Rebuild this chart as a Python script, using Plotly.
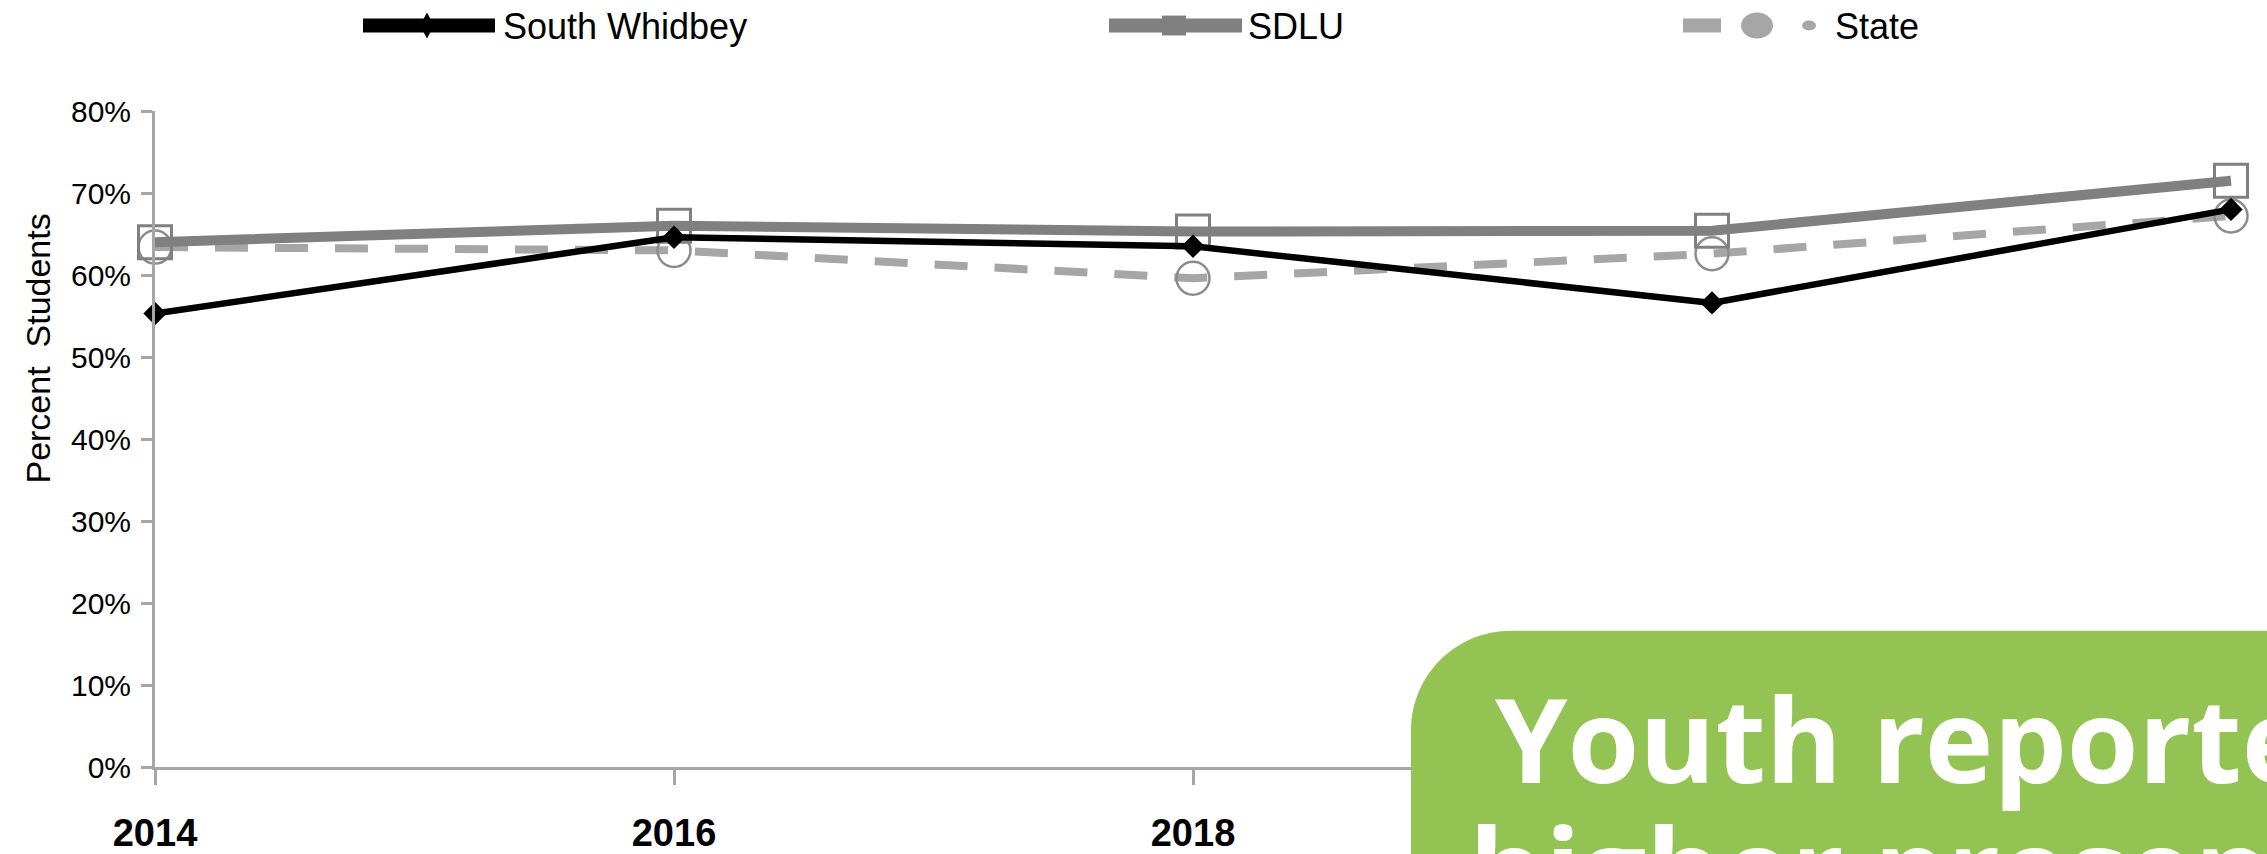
import plotly.graph_objects as go

# Survey years and percent of students (fractions)
years = ["2014", "2016", "2018", "2021", "2023"]
south_whidbey = [0.553, 0.646, 0.635, 0.566, 0.680]
sdlu = [0.640, 0.660, 0.653, 0.654, 0.715]
state = [0.634, 0.630, 0.596, 0.626, 0.672]

series_names = ["South Whidbey", "SDLU", "State"]
y_tick_vals = [0, 0.1, 0.2, 0.3, 0.4, 0.5, 0.6, 0.7, 0.8]
# year labels that sit under the call-out panel are left blank
x_tick_text = ["2014", "2016", "2018", "", ""]

callout_line1 = "Youth reported"
callout_line2 = "higher presence of"
y_title = "Percent\u00a0 Students"

W, H = 2267, 854
L, R, T, B = 155, 2267, 111, 771
CAT_STEP = 519  # pixel distance between neighbouring years

AXIS_GREY = "#A6A6A6"
FONT = "Liberation Sans, Arial, sans-serif"


def px_x(px):
    return (px - L) / (R - L)


def px_y(py):
    return (B - py) / (B - T)


def path_px(points_cmds):
    """Build an SVG path in paper units from pixel commands."""
    out = []
    for cmd, pts in points_cmds:
        coords = " ".join(f"{px_x(x):.5f},{px_y(y):.5f}" for x, y in pts)
        out.append(f"{cmd}{coords}")
    return " ".join(out) + " Z"


fig = go.Figure()

fig.add_trace(go.Scatter(
    x=years, y=state, name=series_names[2], mode="lines+markers",
    line=dict(color="#A6A6A6", width=8, dash="33px,27px"),
    marker=dict(symbol="circle-open", size=33, color="#8C8C8C",
                line=dict(width=2.5)),
    cliponaxis=False, showlegend=False,
))
fig.add_trace(go.Scatter(
    x=years, y=sdlu, name=series_names[1], mode="lines+markers",
    line=dict(color="#808080", width=10),
    marker=dict(symbol="square-open", size=33, color="#808080",
                line=dict(width=3)),
    cliponaxis=False, showlegend=False,
))
fig.add_trace(go.Scatter(
    x=years, y=south_whidbey, name=series_names[0], mode="lines+markers",
    line=dict(color="#000000", width=6.5),
    marker=dict(symbol="diamond", size=18, color="#000000"),
    cliponaxis=False, showlegend=False,
))

shapes = []
annotations = []

# ---- legend row across the top ----
LEG_Y = 25


def hline(x0, x1, y, color, width):
    return dict(type="line", xref="paper", yref="paper",
                x0=px_x(x0), x1=px_x(x1), y0=px_y(y), y1=px_y(y),
                line=dict(color=color, width=width), layer="above")


def box(x0, x1, y0, y1, color, kind="rect"):
    return dict(type=kind, xref="paper", yref="paper",
                x0=px_x(x0), x1=px_x(x1), y0=px_y(y0), y1=px_y(y1),
                fillcolor=color, line=dict(width=0), layer="above")


# South Whidbey key
shapes.append(hline(363, 495, LEG_Y, "#000000", 14))
shapes.append(dict(type="path", xref="paper", yref="paper", layer="above",
                   path=path_px([("M", [(427, LEG_Y - 13)]), ("L", [(434, LEG_Y)]),
                                 ("L", [(427, LEG_Y + 13)]), ("L", [(420, LEG_Y)])]),
                   fillcolor="#000000", line=dict(width=0)))
# SDLU key
shapes.append(hline(1109, 1242, LEG_Y, "#808080", 14))
shapes.append(box(1162, 1186, LEG_Y - 10, LEG_Y + 10, "#808080"))
# State key
shapes.append(box(1683, 1721, LEG_Y - 7, LEG_Y + 7, "#A6A6A6"))
shapes.append(box(1741, 1773, LEG_Y - 13, LEG_Y + 13, "#A6A6A6", "circle"))
shapes.append(box(1802, 1816, LEG_Y - 5, LEG_Y + 5, "#A6A6A6", "circle"))

for name, x0 in zip(series_names, [502, 1247, 1834]):
    annotations.append(dict(
        text=name, xref="paper", yref="paper", x=px_x(x0), y=px_y(LEG_Y + 1),
        xanchor="left", yanchor="middle", showarrow=False,
        font=dict(family=FONT, size=36, color="#000000"), borderpad=0,
    ))

# ---- y axis title ----
annotations.append(dict(
    text=y_title, xref="paper", yref="paper", x=px_x(38), y=px_y(350),
    xanchor="center", yanchor="middle", textangle=-90, showarrow=False,
    font=dict(family=FONT, size=34, color="#000000"),
))

# ---- green call-out panel with rounded top-left corner ----
BX, BY, RAD, K = 1411, 634, 100, 0.5523
shapes.append(dict(
    type="path", xref="paper", yref="paper", layer="above",
    path=path_px([
        ("M", [(BX, 900)]),
        ("L", [(BX, BY + RAD)]),
        ("C", [(BX, BY + RAD - RAD * K), (BX + RAD - RAD * K, BY), (BX + RAD, BY)]),
        ("L", [(2400, BY)]),
        ("L", [(2400, 900)]),
    ]),
    fillcolor="#93C353", line=dict(width=0),
))

CALL_FONT = dict(family="Open Sans, Noto Sans, sans-serif", size=116,
                 color="#FFFFFF", weight="bold")
annotations.append(dict(
    text=callout_line1, xref="paper", yref="paper", x=px_x(1494), y=px_y(661),
    xanchor="left", yanchor="top", showarrow=False, font=CALL_FONT, borderpad=0,
))
annotations.append(dict(
    text=callout_line2, xref="paper", yref="paper", x=px_x(1468), y=px_y(792),
    xanchor="left", yanchor="top", showarrow=False, font=CALL_FONT, borderpad=0,
))

fig.update_layout(
    width=W, height=H,
    margin=dict(l=L, r=W - R, t=T, b=H - B, pad=0),
    paper_bgcolor="#FFFFFF", plot_bgcolor="#FFFFFF",
    font=dict(family=FONT, color="#000000"),
    shapes=shapes, annotations=annotations,
    showlegend=False,
)

fig.update_xaxes(
    type="category", range=[0, (R - L) / CAT_STEP],
    tickvals=years, ticktext=x_tick_text,
    showgrid=False, zeroline=False,
    showline=True, linecolor=AXIS_GREY, linewidth=3,
    ticks="outside", ticklen=15, tickwidth=3, tickcolor=AXIS_GREY,
    tickfont=dict(family=FONT, size=38, color="#000000", weight="bold"),
    ticklabelstandoff=15,
)
fig.update_yaxes(
    range=[0, 0.8], tickvals=y_tick_vals, tickformat=".0%",
    showgrid=False, zeroline=False,
    showline=True, linecolor=AXIS_GREY, linewidth=3,
    ticks="outside", ticklen=11, tickwidth=3, tickcolor=AXIS_GREY,
    tickfont=dict(family=FONT, size=30, color="#000000"),
    ticklabelstandoff=4,
)

fig.write_html("out.html")
